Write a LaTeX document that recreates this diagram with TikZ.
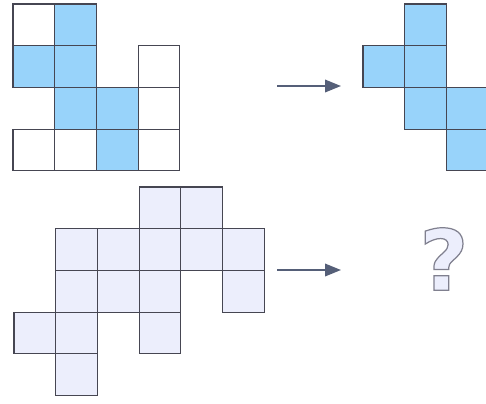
\documentclass[tikz,border=0pt]{standalone}
\usepackage{fontspec}
\usepackage{xcolor}
\usetikzlibrary{arrows.meta, positioning}
\newfontfamily\qmfont{DejaVu Sans}
\definecolor{cellline}{RGB}{70,70,82}
\definecolor{cellblue}{RGB}{152,211,250}
\definecolor{celllav}{RGB}{236,238,252}
\definecolor{arrowgray}{RGB}{85,95,120}
\tikzset{
  cell/.style={draw=cellline, line width=0.6pt, fill=white},
  bluecell/.style={cell, fill=cellblue},
  lavcell/.style={cell, fill=celllav},
  maparrow/.style={-{Triangle[length=0.32cm, width=0.25cm]}, line width=1.1pt, color=arrowgray}
}
\newcommand{\cellsz}{41.7}
\begin{document}
\begin{tikzpicture}[x=0.02cm, y=-0.02cm]
  \clip (0,0) rectangle (486,403);
  \fill[white] (0,0) rectangle (486,403);

  % Top figure: white cells, then blue cells
  \foreach \c/\r in {0/0, 3/1, 3/2, 0/3, 1/3, 3/3}
    \draw[cell] (13+\cellsz*\c, 4+\cellsz*\r) rectangle ++(\cellsz, \cellsz);
  \foreach \c/\r in {1/0, 0/1, 1/1, 1/2, 2/2, 2/3}
    \draw[bluecell] (13+\cellsz*\c, 4+\cellsz*\r) rectangle ++(\cellsz, \cellsz);

  % Result figure
  \foreach \c/\r in {1/0, 0/1, 1/1, 1/2, 2/2, 2/3}
    \draw[bluecell] (363+\cellsz*\c, 4+\cellsz*\r) rectangle ++(\cellsz, \cellsz);

  % Bottom figure
  \foreach \c/\r in {3/0, 4/0, 1/1, 2/1, 3/1, 4/1, 5/1, 1/2, 2/2, 3/2, 5/2, 0/3, 1/3, 3/3, 1/4}
    \draw[lavcell] (14+\cellsz*\c, 187+\cellsz*\r) rectangle ++(\cellsz, \cellsz);

  % Arrows
  \coordinate (topfrom) at (277,86);
  \coordinate (topto) at (341,86);
  \coordinate (botfrom) at (277,270);
  \coordinate (botto) at (341,270);
  \draw[maparrow] (topfrom) -- (topto);
  \draw[maparrow] (botfrom) -- (botto);

  % Question mark
  \node[inner sep=0pt, text=celllav] (qmark) at (444,259)
    {\qmfont\bfseries\fontsize{48}{48}\selectfont\special{pdf:literal direct 0.5 0.5 0.56 RG 0.7 w 2 Tr}?\special{pdf:literal direct 0 Tr}};
\end{tikzpicture}
\end{document}
